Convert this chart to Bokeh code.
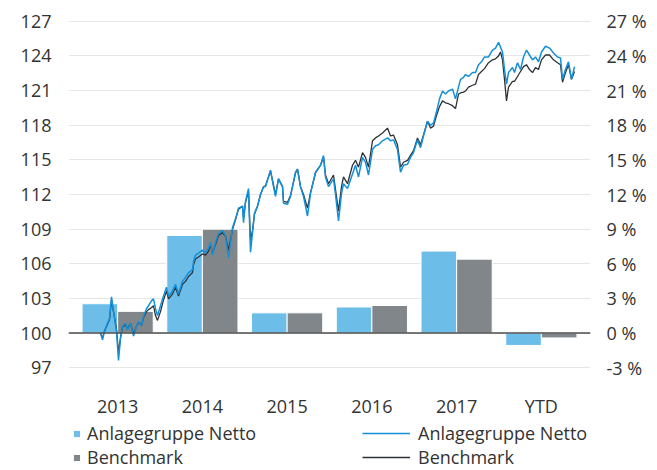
from bokeh.plotting import figure
from bokeh.layouts import column
from bokeh.models import (Range1d, LinearAxis, FixedTicker, Span, Legend,
                          LegendItem, PrintfTickFormatter, ColumnDataSource)
from bokeh.transform import dodge
from bokeh.embed import file_html
from bokeh.resources import INLINE

# ---- data -------------------------------------------------------------
years = ["2013", "2014", "2015", "2016", "2017", "YTD"]
fund_pct = [2.54, 8.45, 1.75, 2.26, 7.10, -1.07]
bench_pct = [1.88, 9.00, 1.75, 2.39, 6.40, -0.42]

# time position of the index lines, index values (start = 100)
t = [0, 2, 4, 7, 9, 11, 13, 16, 18, 20, 22, 25, 27, 30, 33, 36, 38, 41, 43, 46,
     48, 51, 53, 55, 57, 60, 63, 66, 68, 72, 75, 78, 82, 85, 88, 92, 93, 95, 98, 102,
     105, 108, 110, 112, 115, 118, 122, 125, 128, 132, 135, 138, 142, 143, 145, 148, 150, 152, 154, 157,
     160, 163, 165, 170, 173, 175, 178, 182, 183, 187, 190, 195, 197, 200, 203, 207, 210, 215, 220, 223,
     225, 228, 233, 235, 238, 241, 243, 247, 252, 255, 258, 262, 265, 268, 272, 275, 278, 282, 287, 290,
     293, 297, 300, 303, 307, 310, 313, 317, 320, 323, 327, 330, 333, 336, 339, 342, 345, 348, 352, 355,
     358, 360, 363, 365, 368, 372, 375, 378, 381, 384, 388, 392, 395, 398, 400, 402, 404, 406, 408, 412,
     414, 417, 420, 423, 426, 429, 432, 435, 438, 441, 445, 449, 453, 457, 460, 462, 465, 468, 471, 474]

fund_idx = [100.00, 99.41, 100.17, 100.85, 101.27, 103.13, 101.86, 100.17, 97.63, 99.58,
            100.59, 100.85, 100.25, 100.85, 99.75, 100.59, 101.01, 100.68, 101.44, 102.11,
            102.37, 102.79, 102.96, 102.11, 101.52, 102.37, 103.21, 103.97, 103.21, 103.63,
            104.23, 103.38, 104.48, 104.82, 105.24, 105.49, 106.17, 106.76, 106.93, 107.18,
            106.93, 107.35, 107.86, 106.76, 107.86, 108.62, 108.87, 108.45, 106.51, 109.13,
            109.89, 110.82, 110.99, 109.55, 111.41, 112.51, 107.01, 108.70, 110.39, 110.99,
            112.00, 112.68, 112.68, 114.11, 112.68, 111.83, 113.35, 112.68, 111.24, 111.15,
            111.83, 113.94, 114.20, 112.68, 111.83, 110.14, 112.08, 113.94, 114.53, 115.38,
            113.52, 112.68, 113.35, 112.00, 109.72, 112.08, 112.93, 112.51, 113.77, 114.53,
            113.52, 115.21, 114.79, 113.69, 115.89, 116.22, 116.31, 116.65, 116.90, 116.65,
            116.73, 115.89, 113.94, 114.53, 114.62, 115.21, 115.63, 116.73, 116.06, 117.07,
            118.34, 118.00, 118.17, 119.18, 120.28, 120.96, 120.70, 120.96, 121.13, 120.28,
            121.30, 121.97, 122.14, 122.39, 122.22, 122.56, 122.56, 123.24, 123.49, 123.91,
            123.91, 124.51, 124.68, 125.18, 124.76, 124.34, 122.82, 121.55, 122.56, 122.99,
            122.56, 123.41, 122.82, 123.91, 124.51, 124.08, 123.66, 123.91, 123.49, 124.34,
            124.84, 124.68, 124.25, 123.91, 123.83, 121.97, 122.82, 123.49, 121.97, 123.07]

bench_idx = [100.00, 99.58, 100.17, 100.76, 101.18, 102.87, 101.86, 100.34, 98.31, 99.58,
             100.51, 100.76, 100.34, 100.85, 99.92, 100.59, 100.93, 100.68, 101.35, 101.86,
             102.03, 102.20, 102.37, 101.52, 101.10, 101.86, 102.87, 103.63, 102.96, 103.38,
             103.97, 103.21, 104.23, 104.48, 104.90, 105.24, 105.92, 106.42, 106.59, 106.85,
             106.76, 107.10, 107.61, 106.93, 107.69, 108.45, 108.70, 108.37, 107.18, 108.96,
             109.80, 110.73, 110.99, 109.97, 111.32, 112.25, 108.03, 108.87, 110.31, 110.99,
             112.00, 112.68, 112.76, 114.03, 112.84, 112.00, 113.35, 112.68, 111.41, 111.32,
             111.92, 113.86, 114.20, 112.68, 112.00, 110.82, 112.17, 113.86, 114.53, 115.21,
             113.69, 112.93, 113.69, 112.42, 110.56, 112.68, 113.52, 112.93, 114.53, 114.96,
             114.37, 115.63, 115.21, 114.37, 116.65, 116.90, 117.07, 117.32, 117.75, 117.07,
             117.15, 116.31, 114.37, 114.79, 114.96, 115.38, 115.80, 116.90, 116.31, 117.15,
             118.34, 117.75, 117.92, 118.84, 119.61, 120.11, 119.94, 119.86, 119.69, 119.44,
             120.70, 120.79, 120.87, 120.96, 121.30, 121.46, 121.55, 122.39, 122.65, 122.90,
             123.41, 123.66, 123.75, 124.00, 124.34, 123.66, 121.97, 120.11, 121.30, 121.80,
             121.80, 122.22, 122.65, 123.07, 123.24, 122.82, 122.56, 122.99, 122.82, 123.66,
             124.08, 124.08, 123.66, 123.41, 123.24, 121.72, 122.56, 123.24, 121.97, 122.65]

left_ticks = [97, 100, 103, 106, 109, 112, 115, 118, 121, 124, 127]
right_ticks = [-3, 0, 3, 6, 9, 12, 15, 18, 21, 24, 27]
base_index = 100
series_names = ["Anlagegruppe Netto", "Benchmark"]

# ---- styling ----------------------------------------------------------
FONT = "Open Sans"
FS = "18px"
TXT = "#333333"
BAR_BLUE = "#6cbde8"
BAR_GRAY = "#80868a"
LINE_BLUE = "#1490d8"
LINE_DARK = "#2d3238"
W = 657
NAN = float("nan")

pos = list(range(len(years)))
bars = ColumnDataSource(dict(pos=pos, fund=fund_pct, bench=bench_pct))
lines = ColumnDataSource(dict(t=t, fund=fund_idx, bench=bench_idx))

p = figure(width=W, height=420,
           x_range=Range1d(-0.58, len(years) - 1 + 0.58),
           y_range=Range1d(96.5, 127.5),
           output_backend="svg", toolbar_location=None,
           min_border_left=68, min_border_right=67, min_border_top=15, min_border_bottom=38)
p.outline_line_color = None
p.extra_y_ranges = {"pct": Range1d(-3.5, 27.5)}
p.extra_x_ranges = {"t": Range1d(-32, 490)}

p.vbar(x=dodge("pos", -0.21), top="fund", bottom=0, width=0.42,
       source=bars, y_range_name="pct", fill_color=BAR_BLUE, line_color="white", line_width=1)
p.vbar(x=dodge("pos", 0.21), top="bench", bottom=0, width=0.42,
       source=bars, y_range_name="pct", fill_color=BAR_GRAY, line_color="white", line_width=1)

zero = Span(location=base_index, dimension="width", line_color="#4d4d4d", line_width=1.5)
zero.level = "glyph"
p.add_layout(zero)

p.line(x="t", y="bench", source=lines, x_range_name="t", line_color=LINE_DARK, line_width=1.3)
p.line(x="t", y="fund", source=lines, x_range_name="t", line_color=LINE_BLUE, line_width=1.5)

# grid
p.xgrid.visible = False
p.ygrid.ticker = FixedTicker(ticks=left_ticks)
p.ygrid.grid_line_color = "#e6e6e6"
p.ygrid.grid_line_width = 1

def style_axis(ax, standoff):
    ax.axis_line_color = None
    ax.major_tick_line_color = None
    ax.minor_tick_line_color = None
    ax.major_label_text_font = FONT
    ax.major_label_text_font_size = FS
    ax.major_label_text_color = TXT
    ax.major_label_standoff = standoff

p.yaxis[0].ticker = FixedTicker(ticks=left_ticks)
style_axis(p.yaxis[0], 11)
p.xaxis[0].ticker = FixedTicker(ticks=pos)
p.xaxis[0].major_label_overrides = {i: y for i, y in zip(pos, years)}
style_axis(p.xaxis[0], 14)

right = LinearAxis(y_range_name="pct", ticker=FixedTicker(ticks=right_ticks),
                   formatter=PrintfTickFormatter(format="%d %%"))
style_axis(right, 10)
p.add_layout(right, "right")

# ---- legend strip ------------------------------------------------------
lf = figure(width=W, height=50, x_range=Range1d(0, 1), y_range=Range1d(0, 1),
            output_backend="svg", toolbar_location=None,
            x_axis_location=None, y_axis_location=None, min_border=0)
lf.grid.visible = False
lf.outline_line_color = None

# key-only renderers (no visible marks)
kb1 = lf.vbar(x=[NAN], top=[NAN], width=0.1, fill_color=BAR_BLUE, line_color="white", line_width=1)
kb2 = lf.vbar(x=[NAN], top=[NAN], width=0.1, fill_color=BAR_GRAY, line_color="white", line_width=1)
kl1 = lf.line(x=[NAN], y=[NAN], line_color=LINE_BLUE, line_width=1.5)
kl2 = lf.line(x=[NAN], y=[NAN], line_color=LINE_DARK, line_width=1.3)

def make_legend(renderers, loc, gw, gh, standoff):
    items = [LegendItem(label=n, renderers=[r]) for n, r in zip(series_names, renderers)]
    return Legend(items=items, location=loc, glyph_width=gw, glyph_height=gh,
                  label_standoff=standoff, padding=0, margin=0, spacing=0,
                  border_line_color=None, background_fill_alpha=0,
                  label_text_font=FONT, label_text_font_size=FS, label_text_color=TXT)

lf.add_layout(make_legend([kb1, kb2], (4, 1), 9, 9, 6))
lf.add_layout(make_legend([kl1, kl2], (294, 1), 48, 10, 8))

open("out.html", "w").write(file_html(column(p, lf, spacing=0), INLINE))
